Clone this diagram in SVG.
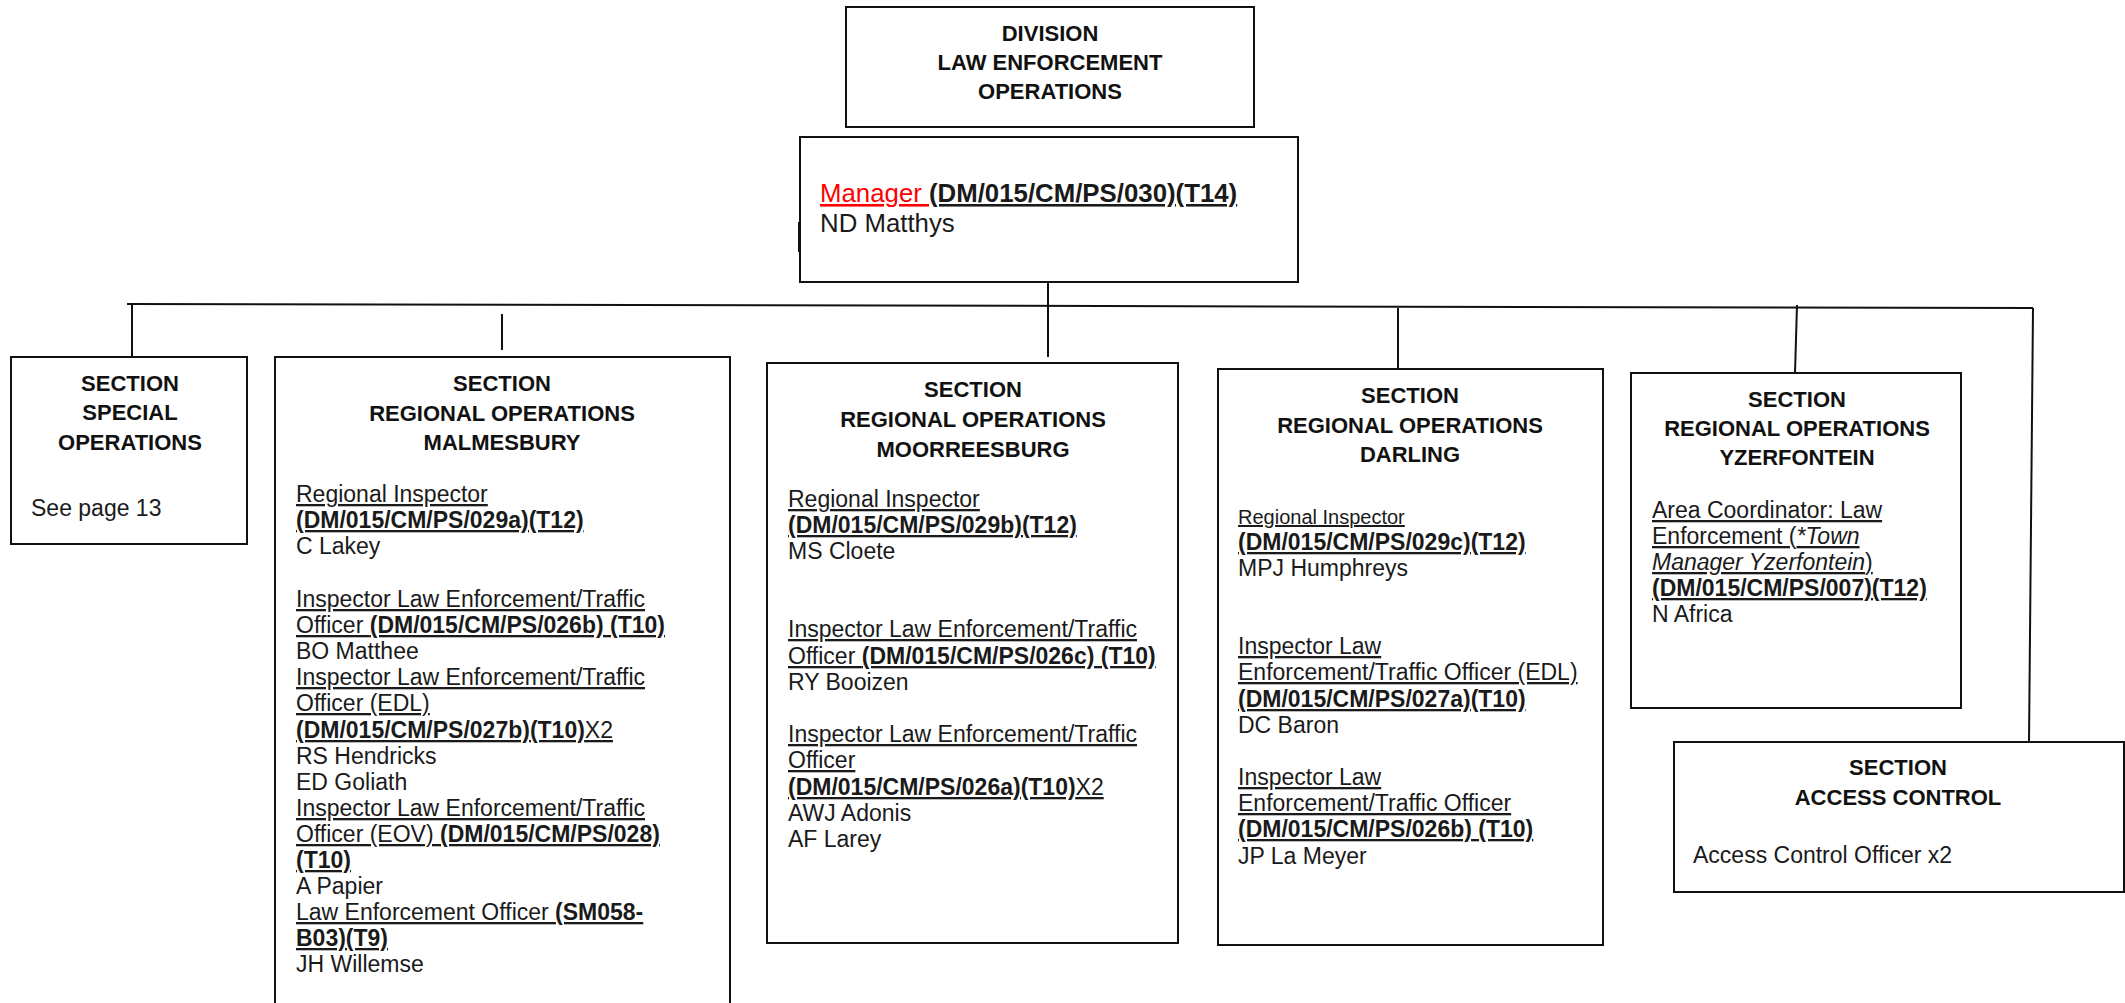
<svg xmlns="http://www.w3.org/2000/svg" width="2125" height="1003" viewBox="0 0 2125 1003">
<style>
.box{fill:#fff;stroke:#111;stroke-width:2}
.conn{stroke:#111;stroke-width:2;fill:none}
.h{font-family:"Liberation Sans",Arial,sans-serif;font-size:22px;font-weight:bold;text-anchor:middle;fill:#111}
.b{font-family:"Liberation Sans",Arial,sans-serif;font-size:23px;fill:#1a1a1a}
.m{font-family:"Liberation Sans",Arial,sans-serif;font-size:25.8px;fill:#1a1a1a}
.s{font-size:20px}
.u{text-decoration:underline}
.bd{font-weight:bold}
.it{font-style:italic}
</style>
<rect width="2125" height="1003" fill="#fff"/>
<g id="connectors">
<path class="conn" d="M127,304 L2033,308"/>
<path class="conn" d="M132,305 L132,357"/>
<path class="conn" d="M502,314 L502,350"/>
<path class="conn" d="M1048,282 L1048,357"/>
<path class="conn" d="M1398,308 L1398,369"/>
<path class="conn" d="M1797,305 L1795,373"/>
<path class="conn" d="M2033,308 L2029,742"/>
</g>
<g id="division">
<rect class="box" x="846" y="7" width="408" height="120"/>
<text class="h" x="1050" y="41">DIVISION</text>
<text class="h" x="1050" y="70">LAW ENFORCEMENT</text>
<text class="h" x="1050" y="99">OPERATIONS</text>
</g>
<g id="manager">
<rect class="box" x="800" y="137" width="498" height="145"/>
<path class="conn" d="M799,222 L799,252"/>
<text class="m" x="820" y="202"><tspan class="u" fill="#ff0000">Manager </tspan><tspan class="u bd">(DM/015/CM/PS/030)(T14)</tspan></text>
<text class="m" x="820" y="232">ND Matthys</text>
</g>
<g id="special-operations">
<rect class="box" x="11" y="357" width="236" height="187"/>
<text class="h" x="130" y="391">SECTION</text>
<text class="h" x="130" y="420">SPECIAL</text>
<text class="h" x="130" y="450">OPERATIONS</text>
<text class="b" x="31" y="516">See page 13</text>
</g>
<g id="malmesbury">
<rect class="box" x="275" y="357" width="455" height="660"/>
<text class="h" x="502" y="391">SECTION</text>
<text class="h" x="502" y="421">REGIONAL OPERATIONS</text>
<text class="h" x="502" y="450">MALMESBURY</text>
<text class="b" x="296" y="502"><tspan class="u">Regional Inspector</tspan></text>
<text class="b" x="296" y="528"><tspan class="u bd">(DM/015/CM/PS/029a)(T12)</tspan></text>
<text class="b" x="296" y="554">C Lakey</text>
<text class="b" x="296" y="607"><tspan class="u">Inspector Law Enforcement/Traffic</tspan></text>
<text class="b" x="296" y="633"><tspan class="u">Officer </tspan><tspan class="u bd">(DM/015/CM/PS/026b) (T10)</tspan></text>
<text class="b" x="296" y="659">BO Matthee</text>
<text class="b" x="296" y="685"><tspan class="u">Inspector Law Enforcement/Traffic</tspan></text>
<text class="b" x="296" y="711"><tspan class="u">Officer (EDL)</tspan></text>
<text class="b" x="296" y="738"><tspan class="u bd">(DM/015/CM/PS/027b)(T10)</tspan><tspan class="u">X2</tspan></text>
<text class="b" x="296" y="764">RS Hendricks</text>
<text class="b" x="296" y="790">ED Goliath</text>
<text class="b" x="296" y="816"><tspan class="u">Inspector Law Enforcement/Traffic</tspan></text>
<text class="b" x="296" y="842"><tspan class="u">Officer (EOV) </tspan><tspan class="u bd">(DM/015/CM/PS/028)</tspan></text>
<text class="b" x="296" y="868"><tspan class="u bd">(T10)</tspan></text>
<text class="b" x="296" y="894">A Papier</text>
<text class="b" x="296" y="920"><tspan class="u">Law Enforcement Officer </tspan><tspan class="u bd">(SM058-</tspan></text>
<text class="b" x="296" y="946"><tspan class="u bd">B03)(T9)</tspan></text>
<text class="b" x="296" y="972">JH Willemse</text>
</g>
<g id="moorreesburg">
<rect class="box" x="767" y="363" width="411" height="580"/>
<text class="h" x="973" y="397">SECTION</text>
<text class="h" x="973" y="427">REGIONAL OPERATIONS</text>
<text class="h" x="973" y="457">MOORREESBURG</text>
<text class="b" x="788" y="507"><tspan class="u">Regional Inspector</tspan></text>
<text class="b" x="788" y="533"><tspan class="u bd">(DM/015/CM/PS/029b)(T12)</tspan></text>
<text class="b" x="788" y="559">MS Cloete</text>
<text class="b" x="788" y="637"><tspan class="u">Inspector Law Enforcement/Traffic</tspan></text>
<text class="b" x="788" y="664"><tspan class="u">Officer </tspan><tspan class="u bd">(DM/015/CM/PS/026c) (T10)</tspan></text>
<text class="b" x="788" y="690">RY Booizen</text>
<text class="b" x="788" y="742"><tspan class="u">Inspector Law Enforcement/Traffic</tspan></text>
<text class="b" x="788" y="768"><tspan class="u">Officer</tspan></text>
<text class="b" x="788" y="795"><tspan class="u bd">(DM/015/CM/PS/026a)(T10)</tspan><tspan class="u">X2</tspan></text>
<text class="b" x="788" y="821">AWJ Adonis</text>
<text class="b" x="788" y="847">AF Larey</text>
</g>
<g id="darling">
<rect class="box" x="1218" y="369" width="385" height="576"/>
<text class="h" x="1410" y="403">SECTION</text>
<text class="h" x="1410" y="433">REGIONAL OPERATIONS</text>
<text class="h" x="1410" y="462">DARLING</text>
<text class="b s" x="1238" y="524"><tspan class="u">Regional Inspector</tspan></text>
<text class="b" x="1238" y="550"><tspan class="u bd">(DM/015/CM/PS/029c)(T12)</tspan></text>
<text class="b" x="1238" y="576">MPJ Humphreys</text>
<text class="b" x="1238" y="654"><tspan class="u">Inspector Law</tspan></text>
<text class="b" x="1238" y="680"><tspan class="u">Enforcement/Traffic Officer (EDL)</tspan></text>
<text class="b" x="1238" y="707"><tspan class="u bd">(DM/015/CM/PS/027a)(T10)</tspan></text>
<text class="b" x="1238" y="733">DC Baron</text>
<text class="b" x="1238" y="785"><tspan class="u">Inspector Law</tspan></text>
<text class="b" x="1238" y="811"><tspan class="u">Enforcement/Traffic Officer</tspan></text>
<text class="b" x="1238" y="837"><tspan class="u bd">(DM/015/CM/PS/026b) (T10)</tspan></text>
<text class="b" x="1238" y="864">JP La Meyer</text>
</g>
<g id="yzerfontein">
<rect class="box" x="1631" y="373" width="330" height="335"/>
<text class="h" x="1797" y="407">SECTION</text>
<text class="h" x="1797" y="436">REGIONAL OPERATIONS</text>
<text class="h" x="1797" y="465">YZERFONTEIN</text>
<text class="b" x="1652" y="518"><tspan class="u">Area Coordinator: Law</tspan></text>
<text class="b" x="1652" y="544"><tspan class="u">Enforcement (</tspan><tspan class="u it">*Town</tspan></text>
<text class="b" x="1652" y="570"><tspan class="u it">Manager Yzerfontein</tspan><tspan class="u">)</tspan></text>
<text class="b" x="1652" y="596"><tspan class="u bd">(DM/015/CM/PS/007)(T12)</tspan></text>
<text class="b" x="1652" y="622">N Africa</text>
</g>
<g id="access-control">
<rect class="box" x="1674" y="742" width="450" height="150"/>
<text class="h" x="1898" y="775">SECTION</text>
<text class="h" x="1898" y="805">ACCESS CONTROL</text>
<text class="b" x="1693" y="863">Access Control Officer x2</text>
</g>
</svg>
